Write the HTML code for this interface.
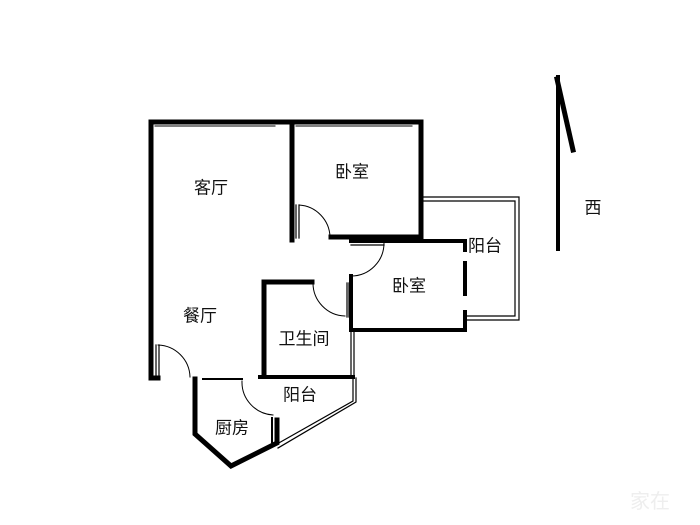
<!DOCTYPE html>
<html><head><meta charset="utf-8"><style>
html,body{margin:0;padding:0;background:#fff}
svg{display:block}
text{font-family:"Liberation Sans","Noto Sans CJK SC",sans-serif;font-size:17px;fill:#111;text-anchor:middle;dominant-baseline:central}
</style></head><body>
<svg width="700" height="525" viewBox="0 0 700 525" xmlns="http://www.w3.org/2000/svg">
<g stroke="#000" fill="none" stroke-linecap="square">
<path d="M151 122 V378 H158" stroke-width="5"/>
<path d="M151 122 H292 V240" stroke-width="5"/>
<path d="M289 122 H421 V237 H331" stroke-width="5"/>
<path d="M351 241 H465 V250 M465 263 V294 M465 312 V330 H351 V276" stroke-width="4"/>
<path d="M264 376 V282 H312" stroke-width="5"/>
<path d="M260 377 H353" stroke-width="4"/>
<path d="M195 379 V434 L231 466 L277 443 V420" stroke-width="5"/>
<path d="M203 379 H242" stroke-width="2"/>
<path d="M421 197 H519 V320 H465 M424 201 H515 V316 H466" stroke-width="1.2"/>
<path d="M155 123 H275 M155 126 H275 M296 123 H412 M296 126 H412" stroke-width="1"/>
<path d="M347 283 V317 M349 283 V317" stroke-width="1.2"/>
<path d="M351 330 V376 M354 330 V376" stroke-width="1.2"/>
<path d="M353 378 V401 L277 444 M356 378 V402 L278 448" stroke-width="1.2"/>
<path d="M296 205 V238 M299 205 V238" stroke-width="1.2"/>
<path d="M156 345 V378 M159 345 V378" stroke-width="1.2"/>
<path d="M351 242 H384 M351 245 H384" stroke-width="1.2"/>
<path d="M272 418 V442" stroke-width="2"/>
<path d="M299 205 A33 33 0 0 1 330 237" stroke-width="1"/>
<path d="M384 243 A33 33 0 0 1 351 276" stroke-width="1"/>
<path d="M313 283 A33 33 0 0 0 345 316" stroke-width="1"/>
<path d="M158 345 A33 33 0 0 1 190 377" stroke-width="1"/>
<path d="M242 381 A33 33 0 0 0 273 415" stroke-width="1"/>
<path d="M558 77 V249" stroke-width="4"/>
<path d="M557 79 L573 150" stroke-width="5"/>
</g>
<text x="211" y="188">客厅</text>
<text x="352" y="172">卧室</text>
<text x="485" y="246">阳台</text>
<text x="409" y="286">卧室</text>
<text x="200" y="316">餐厅</text>
<text x="304" y="339">卫生间</text>
<text x="300" y="395">阳台</text>
<text x="232" y="428">厨房</text>
<text x="593" y="208">西</text>
<text x="650" y="502" style="font-size:20px;fill:#eee">家在</text>
</svg>
</body></html>
